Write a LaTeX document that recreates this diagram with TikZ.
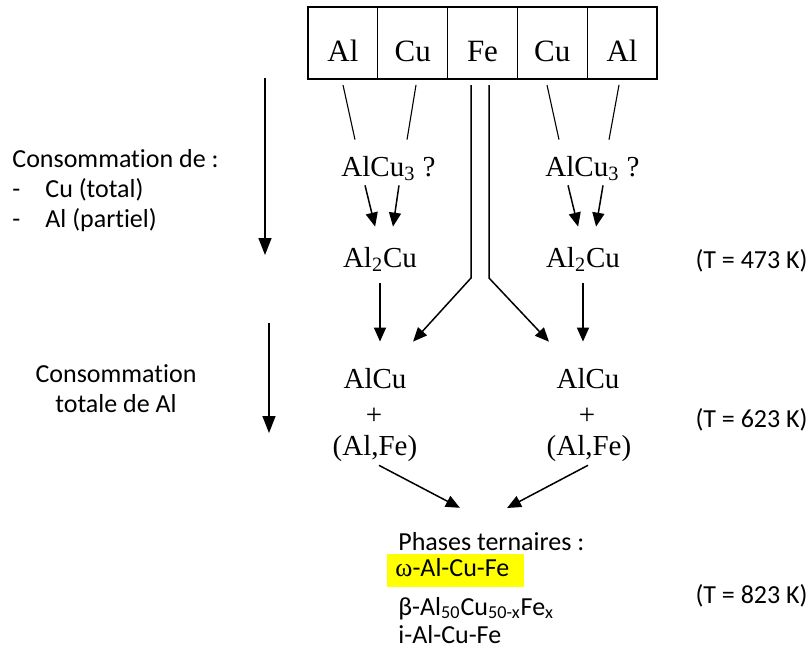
\documentclass[tikz,border=0pt]{standalone}
\usepackage{fontspec}
\setmainfont{Carlito}[Ligatures=CommonOff]
\newfontfamily\timesfont{Liberation Serif}
\usetikzlibrary{positioning, arrows.meta}
\definecolor{hilite}{HTML}{FFFF00}

\begin{document}
\begin{tikzpicture}[x=0.5pt, y=-0.5pt, >={Triangle[length=7pt,width=6pt]},
    cell/.style={draw, line width=0.65pt, outer sep=0pt, inner sep=0pt, minimum width=34.9pt, minimum height=36pt, text height=18pt, text depth=0pt, font=\timesfont\fontsize{15.5}{18}\selectfont},
    chem/.style={inner sep=0pt, anchor=base, text height=10pt, text depth=3pt, font=\timesfont\fontsize{14.5}{17}\selectfont},
    txt/.style={inner sep=0pt, text height=9pt, text depth=3pt, font=\fontsize{13}{15}\selectfont},
    note/.style={inner sep=0pt, font=\fontsize{13}{15}\selectfont},
    link/.style={line width=0.55pt},
    arr/.style={->, line width=0.75pt},
    flow/.style={-{Triangle[length=8.5pt,width=6.5pt]}, line width=0.75pt}]
    \useasboundingbox (0,0) rectangle (811,650);

    \node (c1) [cell] at (342.9,43) {Al};
    \node (c2) [cell, right=0pt of c1] {Cu};
    \node (c3) [cell, right=0pt of c2] {Fe};
    \node (c4) [cell, right=0pt of c3] {Cu};
    \node (c5) [cell, right=0pt of c4] {Al};

    \node (alcuthreeL) [chem] at (388.5,176) {AlCu\textsubscript{3} ?};
    \node (alcuthreeR) [chem] at (592.5,176) {AlCu\textsubscript{3} ?};
    \node (altwoL) [chem] at (380,267) {Al\textsubscript{2}Cu};
    \node (altwoR) [chem] at (583,267) {Al\textsubscript{2}Cu};

    \node (alcuL) [chem] at (375,388) {AlCu};
    \node (plusL) [chem] at (374,424) {+};
    \node (alfeL) [chem] at (375,455) {(Al,Fe)};
    \node (alcuR) [chem] at (588,388) {AlCu};
    \node (plusR) [chem] at (587,424) {+};
    \node (alfeR) [chem] at (589,455) {(Al,Fe)};

    \node (phases) [txt, anchor=base west] at (398,550) {Phases ternaires :};
    \node (omega) [txt, anchor=base west, fill=hilite, inner xsep=4pt, inner ysep=2.25pt, text width=60.5pt, align=left] at (387,576.5) {\mbox{{\timesfont ω}-Al-Cu-Fe}};
    \node (beta) [txt, anchor=base west] at (398,615) {β-Al\textsubscript{50}Cu\textsubscript{50-x}Fe\textsubscript{x}};
    \node (icosa) [txt, anchor=base west] at (398,643) {i-Al-Cu-Fe};

    \node (stepone) [note, anchor=north west, align=left] at (12,149) {Consommation de :\\\makebox[16.5pt][l]{-}Cu (total)\\\makebox[16.5pt][l]{-}Al (partiel)};
    \node (steptwo) [note, anchor=north, align=center] at (116,364) {Consommation\\totale de Al};

    \node (tempone) [txt, anchor=base east] at (808,268) {(T = 473 K)};
    \node (temptwo) [txt, anchor=base east] at (808,427) {(T = 623 K)};
    \node (tempthree) [txt, anchor=base east] at (808,603) {(T = 823 K)};

    \coordinate (flowAtop) at (265,78);
    \coordinate (flowAend) at (265,255);
    \coordinate (flowBtop) at (269,323);
    \coordinate (flowBend) at (269,433);
    \draw[flow] (flowAtop) -- (flowAend);
    \draw[flow] (flowBtop) -- (flowBend);

    \draw[link, shorten <=3.1pt, shorten >=8.2pt] ([xshift=-0.6pt]c1.south) -- ([xshift=-15pt]alcuthreeL.north);
    \draw[link, shorten <=3pt, shorten >=8.1pt] ([xshift=2.15pt]c2.south) -- ([xshift=7.95pt]alcuthreeL.north);
    \draw[link, shorten <=3.1pt, shorten >=8.2pt] ([xshift=-3.3pt]c4.south) -- ([xshift=-15pt]alcuthreeR.north);
    \draw[link, shorten <=3pt, shorten >=8.1pt] ([xshift=-1pt]c5.south) -- ([xshift=6.8pt]alcuthreeR.north);

    \draw[arr, shorten <=1.5pt, shorten >=10.3pt] ([xshift=-12.1pt]alcuthreeL.south) -- (altwoL.north);
    \draw[arr, shorten <=1.5pt, shorten >=10.1pt] ([xshift=5.45pt]alcuthreeL.south) -- ([xshift=5.05pt]altwoL.north);
    \draw[arr, shorten <=1.5pt, shorten >=10.3pt] ([xshift=-12.6pt]alcuthreeR.south) -- (altwoR.north);
    \draw[arr, shorten <=1.5pt, shorten >=10.1pt] ([xshift=5.5pt]alcuthreeR.south) -- ([xshift=4.85pt]altwoR.north);

    \draw[arr, shorten <=5pt, shorten >=13pt] (altwoL.south) -- (altwoL.south |- alcuL.north);
    \draw[arr, shorten <=5pt, shorten >=13pt] (altwoR.south) -- (altwoR.south |- alcuR.north);

    \coordinate (bendL) at (471,278);
    \coordinate (bendR) at (489,278);
    \draw[arr, shorten <=3pt, shorten >=17.6pt] (c3.south -| bendL) -- (bendL) -- ([xshift=7.2pt]alcuL.north);
    \draw[arr, shorten <=3pt, shorten >=17.8pt] (c3.south -| bendR) -- (bendR) -- ([xshift=-7.3pt]alcuR.north);

    \draw[arr, shorten <=4.25pt, shorten >=25.6pt] ([xshift=-1.75pt]alfeL.south) -- ([xshift=53.6pt]phases.north west);
    \draw[arr, shorten <=4.2pt, shorten >=25.3pt] ([xshift=3.2pt]alfeR.south) -- ([xshift=32.15pt]phases.north west);
\end{tikzpicture}
\end{document}
